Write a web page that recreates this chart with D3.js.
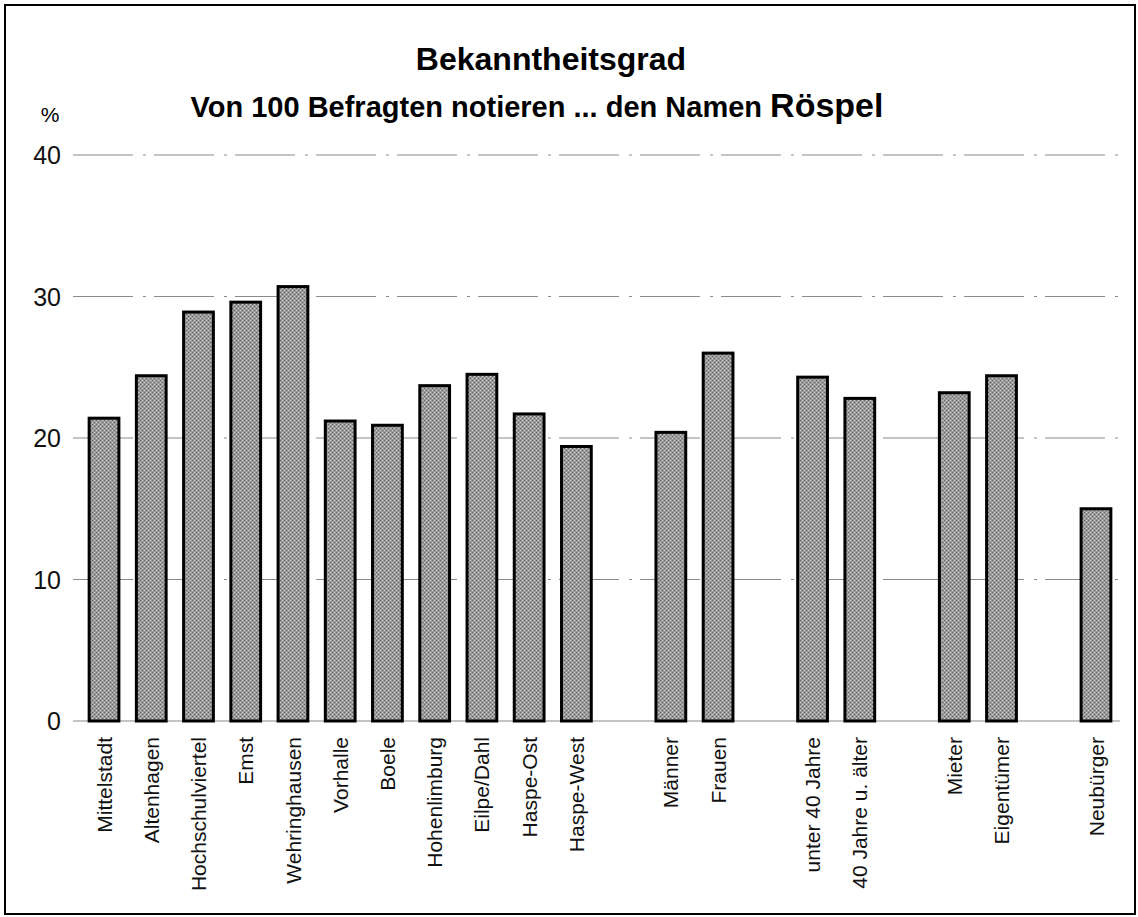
<!DOCTYPE html>
<html>
<head>
<meta charset="utf-8">
<script src="https://cdn.jsdelivr.net/npm/d3@7"></script>
<style>
  body { margin: 0; background: #fff; }
  svg { display: block; font-family: "Liberation Sans", Arial, sans-serif; }
</style>
</head>
<body>
<script>
const WIDTH = 1138;
const HEIGHT = 917;

// categories, "" entries are the empty slots between groups
const categories = [
  "Mittelstadt", "Altenhagen", "Hochschulviertel", "Emst", "Wehringhausen",
  "Vorhalle", "Boele", "Hohenlimburg", "Eilpe/Dahl", "Haspe-Ost", "Haspe-West",
  "",
  "Männer", "Frauen",
  "",
  "unter 40 Jahre", "40 Jahre u. älter",
  "",
  "Mieter", "Eigentümer",
  "",
  "Neubürger"
];
const values = [
  21.4, 24.4, 28.9, 29.6, 30.7,
  21.2, 20.9, 23.7, 24.5, 21.7, 19.4,
  null,
  20.4, 26.0,
  null,
  24.3, 22.8,
  null,
  23.2, 24.4,
  null,
  15.0
];
const yTicks = [0, 10, 20, 30, 40];

const svg = d3.select("body").append("svg")
  .attr("width", WIDTH)
  .attr("height", HEIGHT);

// stippled grey like the scanned bars
const defs = svg.append("defs");
const pat = defs.append("pattern")
  .attr("id", "stipple")
  .attr("patternUnits", "userSpaceOnUse")
  .attr("width", 4).attr("height", 4);
pat.append("rect").attr("width", 4).attr("height", 4).attr("fill", "#9a9a9a");
pat.append("rect").attr("x", 0).attr("y", 0).attr("width", 1).attr("height", 1).attr("fill", "#666");
pat.append("rect").attr("x", 2).attr("y", 2).attr("width", 1).attr("height", 1).attr("fill", "#666");
pat.append("rect").attr("x", 2).attr("y", 0).attr("width", 1).attr("height", 1).attr("fill", "#c8c8c8");
pat.append("rect").attr("x", 0).attr("y", 2).attr("width", 1).attr("height", 1).attr("fill", "#c8c8c8");

// frame
svg.append("rect")
  .attr("x", 5).attr("y", 5)
  .attr("width", 1130).attr("height", 909)
  .attr("fill", "none")
  .attr("stroke", "#000")
  .attr("stroke-width", 2);

const keys = categories.map(function(c, i) { return "k" + i; });

const x = d3.scaleBand()
  .domain(keys)
  .range([80.4, 1119.6])
  .paddingInner(0.37)
  .paddingOuter(0.185);

const y = d3.scaleLinear()
  .domain([0, 40])
  .range([721, 155]);

// gridlines + tick labels
const grid = svg.append("g");
grid.selectAll("line")
  .data(yTicks)
  .enter().append("line")
  .attr("x1", 73).attr("x2", 1120)
  .attr("y1", function(d) { return y(d); })
  .attr("y2", function(d) { return y(d); })
  .attr("stroke", "#8a8a8a")
  .attr("stroke-width", 1.2)
  .attr("stroke-dasharray", function(d) { return d === 0 ? null : "60,10,3,8"; });

grid.selectAll("text")
  .data(yTicks)
  .enter().append("text")
  .attr("x", 61)
  .attr("y", function(d) { return y(d); })
  .attr("dy", "0.36em")
  .attr("text-anchor", "end")
  .attr("font-size", 25)
  .attr("fill", "#111")
  .text(function(d) { return d; });

svg.append("text")
  .attr("x", 50).attr("y", 122)
  .attr("text-anchor", "middle")
  .attr("font-size", 21)
  .text("%");

// bars
const data = categories.map(function(c, i) { return {key: keys[i], name: c, value: values[i]}; })
  .filter(function(d) { return d.value !== null; });

svg.append("g").selectAll("rect")
  .data(data)
  .enter().append("rect")
  .attr("x", function(d) { return x(d.key); })
  .attr("y", function(d) { return y(d.value); })
  .attr("width", x.bandwidth())
  .attr("height", function(d) { return y(0) - y(d.value); })
  .attr("fill", "url(#stipple)")
  .attr("stroke", "#000")
  .attr("stroke-width", 3);

// category labels, rotated
svg.append("g").selectAll("text")
  .data(data)
  .enter().append("text")
  .attr("transform", function(d) {
    return "translate(" + (x(d.key) + x.bandwidth() / 2) + ",737) rotate(-90)";
  })
  .attr("dy", "0.36em")
  .attr("text-anchor", "end")
  .attr("font-size", 21)
  .attr("fill", "#111")
  .text(function(d) { return d.name; });

// titles
svg.append("text")
  .attr("x", 551).attr("y", 70)
  .attr("text-anchor", "middle")
  .attr("font-size", 32)
  .attr("font-weight", "bold")
  .text("Bekanntheitsgrad");

const sub = svg.append("text")
  .attr("x", 537).attr("y", 117)
  .attr("text-anchor", "middle")
  .attr("font-weight", "bold");
sub.append("tspan")
  .attr("font-size", 29)
  .text("Von 100 Befragten notieren ... den Namen ");
sub.append("tspan")
  .attr("font-size", 34)
  .text("Röspel");
</script>
</body>
</html>
